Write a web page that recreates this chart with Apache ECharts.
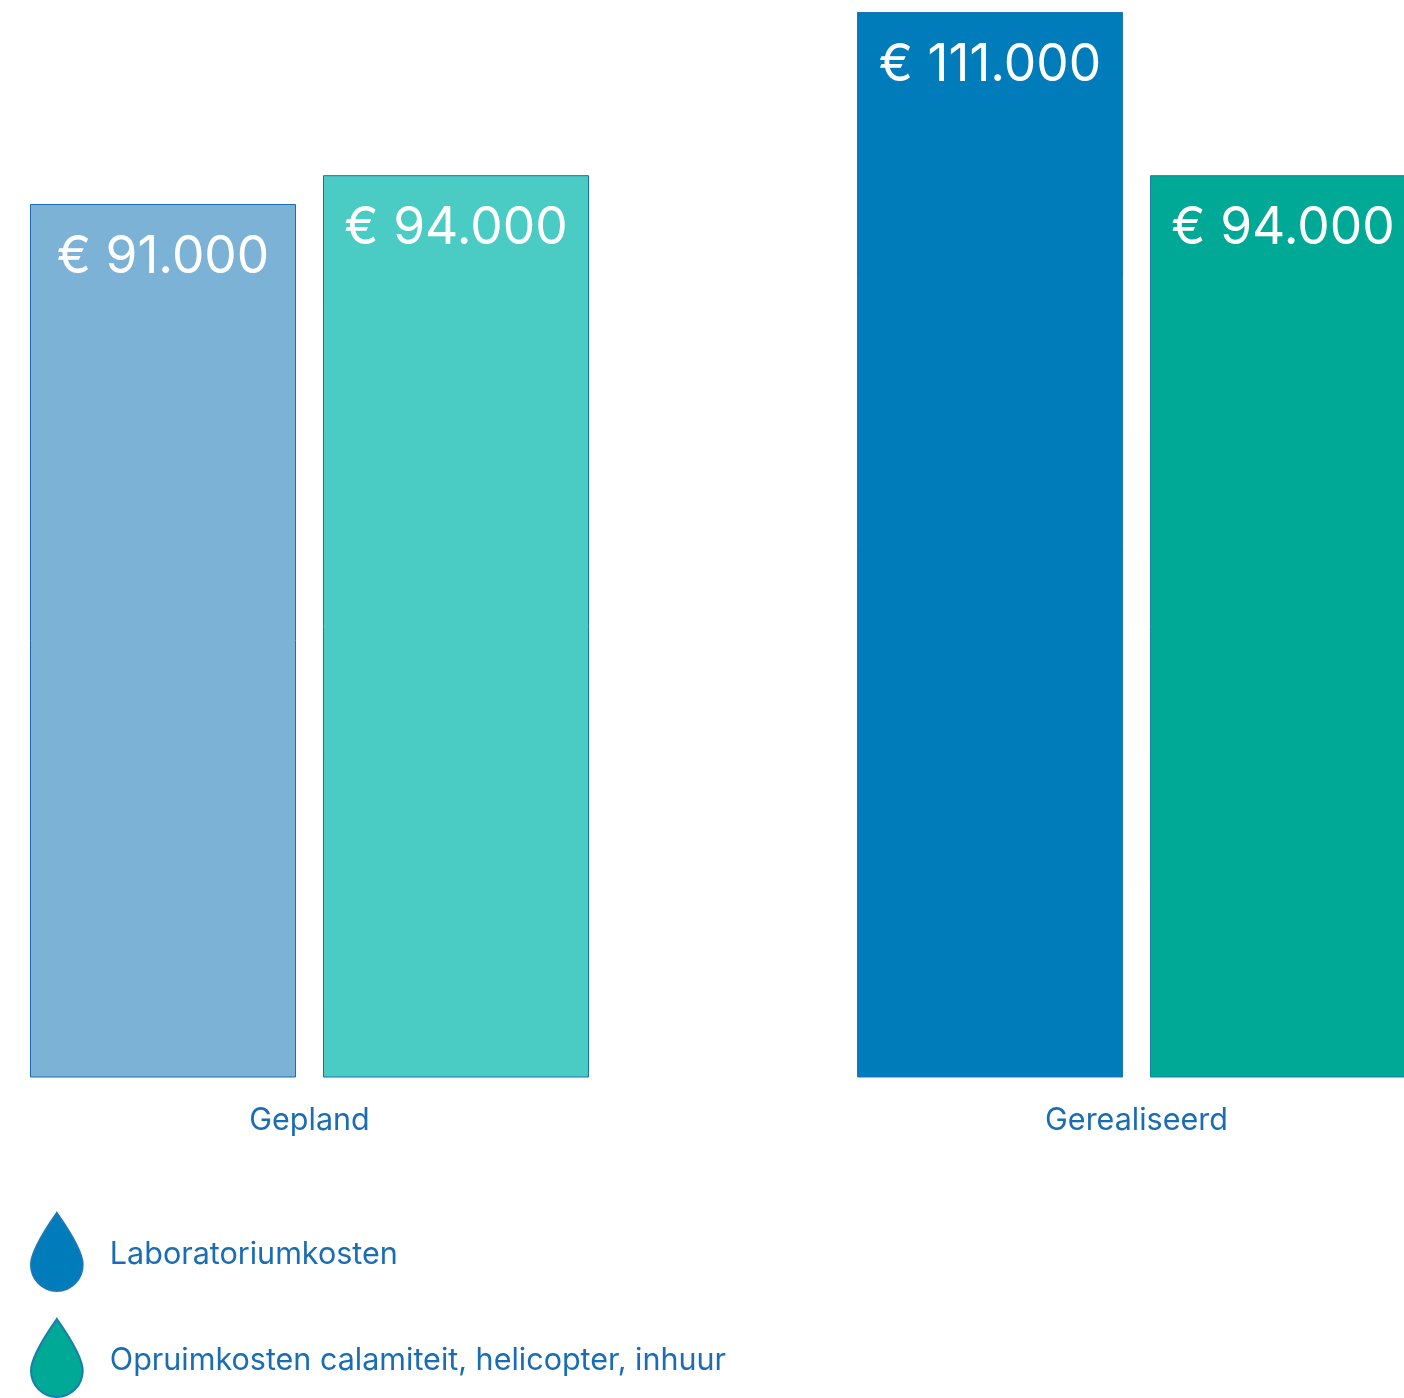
<!DOCTYPE html>
<html>
<head>
<meta charset="utf-8">
<style>
  html, body { margin: 0; padding: 0; background: #fff; overflow: hidden; }
  #chart { width: 1404px; height: 1398px; }
</style>
<script src="https://cdn.jsdelivr.net/npm/echarts@6/dist/echarts.min.js"></script>
</head>
<body>
<div id="chart"></div>
<script>
const categories = ['Gepland', 'Gerealiseerd'];
const labCosts = [91000, 111000];
const cleanupCosts = [94000, 94000];
const seriesNames = ['Laboratoriumkosten', 'Opruimkosten calamiteit, helicopter, inhuur'];

const textBlue = '#1a6db3';
const fontName = 'Inter';
const drop = 'path://M26.5 0 C29 4 53 36 53 53 C53 68 41 80 26.5 80 C12 80 0 68 0 53 C0 36 24 4 26.5 0 Z';

const euro = (v) => '€ ' + String(v).replace(/\B(?=(\d{3})+$)/g, '.');

const makeSeries = (name, values, lightColor, darkColor, border) => ({
  name: name,
  type: 'bar',
  barWidth: 266,
  barGap: '10.15%',
  itemStyle: { color: darkColor, borderColor: border, borderWidth: 1 },
  // planned bar is the lighter tint
  data: values.map((v, i) => i === 0 ? { value: v, itemStyle: { color: lightColor, borderColor: textBlue } } : v),
  label: {
    show: true,
    position: 'insideTop',
    distance: 27.5,
    formatter: (p) => euro(p.value),
    color: '#fff',
    fontFamily: fontName,
    fontSize: 51.5,
    fontWeight: 400
  }
});

const chart = echarts.init(document.getElementById('chart'), null, { renderer: 'canvas' });
chart.setOption({
  animation: false,
  backgroundColor: '#fff',
  grid: { left: -104, top: 12, width: 1654, height: 1065.5, containLabel: false, outerBoundsMode: 'none' },
  xAxis: {
    type: 'category',
    data: categories,
    axisLine: { show: false },
    axisTick: { show: false },
    axisLabel: { margin: 28, color: textBlue, fontFamily: fontName, fontSize: 30.5, fontWeight: 400 }
  },
  yAxis: { type: 'value', min: 0, max: 111000, show: false, splitLine: { show: false } },
  legend: {
    left: 30,
    top: 1212,
    height: 300, // stops the two entries wrapping into a second column
    padding: 0,
    orient: 'vertical',
    icon: drop,
    itemWidth: 52,
    itemHeight: 78,
    itemGap: 26,
    formatter: (name) => '{t|' + name + '}',
    textStyle: {
      padding: [0, 0, 0, 22],
      rich: {
        // legend text ignores plain top padding, the rich token does not
        t: { color: textBlue, fontFamily: fontName, fontSize: 30.5, fontWeight: 400, padding: [5, 0, 0, 0] }
      }
    },
    data: seriesNames
  },
  series: [
    makeSeries(seriesNames[0], labCosts, '#7bb2d6', '#007cba', '#1a78b8'),
    makeSeries(seriesNames[1], cleanupCosts, '#4accc4', '#00a896', '#1a7fa8')
  ]
});
</script>
</body>
</html>
